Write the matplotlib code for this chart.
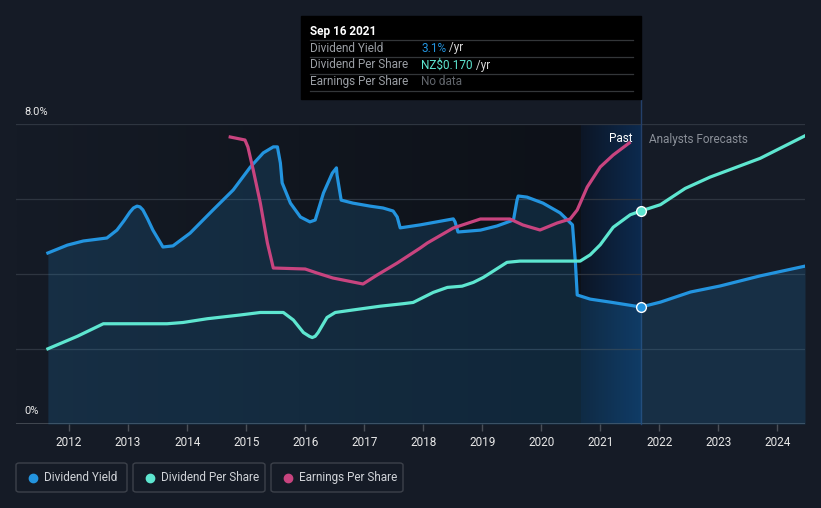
import matplotlib.pyplot as plt
import numpy as np
from matplotlib.patches import Rectangle, FancyBboxPatch
from matplotlib.lines import Line2D

plt.rcParams['font.family'] = ['Roboto', 'DejaVu Sans']

# dividend yield (%)
yield_x = [2011.64, 2011.97, 2012.24, 2012.64, 2012.81, 2012.93, 2013.03, 2013.09, 2013.15, 2013.20,
           2013.25, 2013.33, 2013.42, 2013.59, 2013.76, 2014.05, 2014.44, 2014.78, 2015.07, 2015.29,
           2015.46, 2015.53, 2015.58, 2015.61, 2015.75, 2015.92, 2016.08, 2016.17, 2016.31, 2016.46,
           2016.53, 2016.54, 2016.61, 2016.81, 2017.10, 2017.32, 2017.49, 2017.56, 2017.61, 2017.95,
           2018.51, 2018.54, 2018.59, 2018.97, 2019.25, 2019.53, 2019.59, 2019.61, 2019.76, 2020.03,
           2020.32, 2020.53, 2020.58, 2020.61, 2020.83, 2021.17, 2021.69, 2022.02, 2022.53, 2023.03,
           2023.71, 2024.47]
yield_y = [4.56, 4.77, 4.88, 4.96, 5.17, 5.42, 5.65, 5.76, 5.81, 5.79,
           5.71, 5.47, 5.17, 4.72, 4.75, 5.09, 5.71, 6.24, 6.85, 7.23,
           7.39, 7.39, 6.96, 6.43, 5.89, 5.52, 5.39, 5.44, 6.16, 6.69,
           6.83, 6.64, 5.97, 5.89, 5.81, 5.76, 5.68, 5.52, 5.23, 5.31,
           5.47, 5.39, 5.12, 5.17, 5.28, 5.44, 5.97, 6.08, 6.05, 5.89,
           5.63, 5.31, 4.29, 3.44, 3.33, 3.25, 3.12, 3.25, 3.52, 3.68,
           3.95, 4.21]

# dividend per share (NZ$)
dps_x = [2011.64, 2012.14, 2012.58, 2013.66, 2013.93, 2014.34, 2014.90, 2015.24, 2015.63, 2015.80,
         2015.97, 2016.07, 2016.12, 2016.17, 2016.22, 2016.37, 2016.51, 2016.81, 2017.27, 2017.66,
         2017.83, 2018.17, 2018.41, 2018.66, 2018.85, 2019.02, 2019.42, 2019.64, 2020.66, 2020.83,
         2021.00, 2021.22, 2021.51, 2021.69, 2022.02, 2022.44, 2022.86, 2023.71, 2024.47]
dps_y = [0.060, 0.070, 0.080, 0.080, 0.081, 0.084, 0.087, 0.089, 0.089, 0.083,
         0.073, 0.070, 0.069, 0.070, 0.073, 0.085, 0.089, 0.091, 0.094, 0.096,
         0.097, 0.105, 0.109, 0.110, 0.113, 0.117, 0.129, 0.130, 0.130, 0.135,
         0.143, 0.157, 0.167, 0.170, 0.175, 0.188, 0.197, 0.212, 0.230]

# earnings per share (NZ$)
eps_x = [2014.73, 2014.98, 2015.03, 2015.12, 2015.24, 2015.36, 2015.46, 2016.00, 2016.20, 2016.47,
         2016.98, 2017.22, 2017.56, 2017.95, 2018.07, 2018.51, 2018.97, 2019.47, 2019.69, 2019.98,
         2020.27, 2020.49, 2020.61, 2020.78, 2021.00, 2021.22, 2021.49]
eps_y = [0.287, 0.284, 0.277, 0.254, 0.221, 0.181, 0.156, 0.155, 0.151, 0.146,
         0.140, 0.149, 0.161, 0.176, 0.181, 0.196, 0.205, 0.205, 0.199, 0.194,
         0.201, 0.205, 0.214, 0.237, 0.257, 0.269, 0.281]

years = list(range(2012, 2025))
now = 2021.69
past_start = 2020.68

BG = '#151b26'
BLUE = '#2394df'
TEAL = '#5ee6d0'
PINK = '#c8447f'

W, H = 821, 508
fig = plt.figure(figsize=(W / 100, H / 100), dpi=100, facecolor=BG)
ax = fig.add_axes([16 / W, 84 / H, 789 / W, 300 / H])
ax.set_facecolor(BG)
x0, x1 = 2011.10, 2024.47
ax.set_xlim(x0, x1)
ax.set_ylim(0, 8)

# background gradients
grad = np.linspace(0, 1, 256).reshape(1, -1)
cm1 = plt.matplotlib.colors.LinearSegmentedColormap.from_list('g1', [BG, '#0d1118'])
ax.imshow(grad, extent=[x0, past_start, 0, 8], aspect='auto', cmap=cm1, zorder=0)
cm2 = plt.matplotlib.colors.LinearSegmentedColormap.from_list('g2', ['#0d1626', '#0c2a4e'])
ax.imshow(grad, extent=[past_start, now, 0, 8], aspect='auto', cmap=cm2, zorder=0)

for g in [2, 4, 6, 8]:
    ax.axhline(g, color='#2e3540', lw=0.9, zorder=1)
ax.axhline(0, color='#4a4f58', lw=1.2, zorder=1)
# now line, running up to the tooltip
ax.plot([now, now], [0, 8.64], color='#24406a', lw=1, zorder=1, clip_on=False)

for s in ax.spines.values():
    s.set_visible(False)
ax.set_yticks([])
ax.set_xticks(years)
ax.set_xticklabels([str(y) for y in years])
ax.tick_params(axis='x', colors='#4a4f58', length=5, width=1, labelcolor='#e8e8e8',
               labelsize=8.5, pad=4)

ax.fill_between(yield_x, yield_y, 0, color=BLUE, alpha=0.17, lw=0, zorder=2)
ax.plot(yield_x, yield_y, color=BLUE, lw=2.3, zorder=5, solid_joinstyle='round')

ax2 = ax.twinx()
ax2.set_ylim(0, 0.2394)
ax2.axis('off')
ax2.plot(dps_x, dps_y, color=TEAL, lw=2.3, zorder=5, solid_joinstyle='round')

ax3 = ax.twinx()
ax3.set_ylim(0, 0.30)
ax3.axis('off')
ax3.plot(eps_x, eps_y, color=PINK, lw=2.3, zorder=5, solid_joinstyle='round')

# markers at the tooltip date, drawn on the top axes
ax3.plot([now], [3.12], 'o', ms=7, mfc=BLUE, mec='white', mew=1, zorder=8, transform=ax.transData)
ax3.plot([now], [0.170], 'o', ms=7, mfc=TEAL, mec='white', mew=1, zorder=8, transform=ax2.transData)

ax.text(now - 0.15, 7.6, 'Past', color='white', fontsize=8.5, ha='right', va='center', zorder=9)
ax.text(now + 0.13, 7.6, 'Analysts Forecasts', color='#8a8f98', fontsize=8.5, ha='left', va='center', zorder=9)

def fx(px):
    return px / W

def fy(py):
    return 1 - py / H

# y labels
fig.text(fx(24), fy(112), '8.0%', color='#e8e8e8', fontsize=8, va='center')
fig.text(fx(24), fy(411), '0%', color='#e8e8e8', fontsize=8, va='center')

# tooltip
fig.add_artist(Rectangle((fx(301), fy(99)), fx(641) - fx(301), fy(16) - fy(99), color='black'))
fig.text(fx(310), fy(31), 'Sep 16 2021', color='white', fontsize=8.5, fontweight='bold', va='center')
for ly in [40, 57, 74, 91]:
    fig.add_artist(Line2D([fx(310), fx(633)], [fy(ly), fy(ly)], color='#333639', lw=0.9))
rows = [('Dividend Yield', '3.1%', BLUE, ' /yr'),
        ('Dividend Per Share', 'NZ$0.170', TEAL, ' /yr'),
        ('Earnings Per Share', 'No data', '#62666c', '')]
for i, (lab, val, col, suf) in enumerate(rows):
    yy = fy(48 + 17 * i)
    fig.text(fx(310), yy, lab, color='#9a9ea4', fontsize=8.5, va='center')
    t = fig.text(fx(421), yy, val, color=col, fontsize=8.5, va='center')
    if suf:
        fig.canvas.draw()
        bb = t.get_window_extent()
        fig.text(bb.x1 / W, yy, suf, color='#d8d8d8', fontsize=8.5, va='center')

# legend boxes
legend = [('Dividend Yield', BLUE, 16, 127), ('Dividend Per Share', TEAL, 133, 265),
          ('Earnings Per Share', PINK, 271, 403)]
for lab, col, bx0, bx1 in legend:
    fig.add_artist(FancyBboxPatch((fx(bx0), fy(492)), fx(bx1) - fx(bx0), fy(463) - fy(492),
                                  boxstyle='round,pad=0,rounding_size=0.004',
                                  fc='none', ec='#3c414a', lw=1))
    fig.add_artist(Line2D([fx(bx0 + 17)], [fy(477.5)], marker='o', ms=6, color=col, mec=col))
    fig.text(fx(bx0 + 28), fy(477.5), lab, color='#d0d3d8', fontsize=8.5, va='center')

fig.savefig('out.png', dpi=100, facecolor=BG)
